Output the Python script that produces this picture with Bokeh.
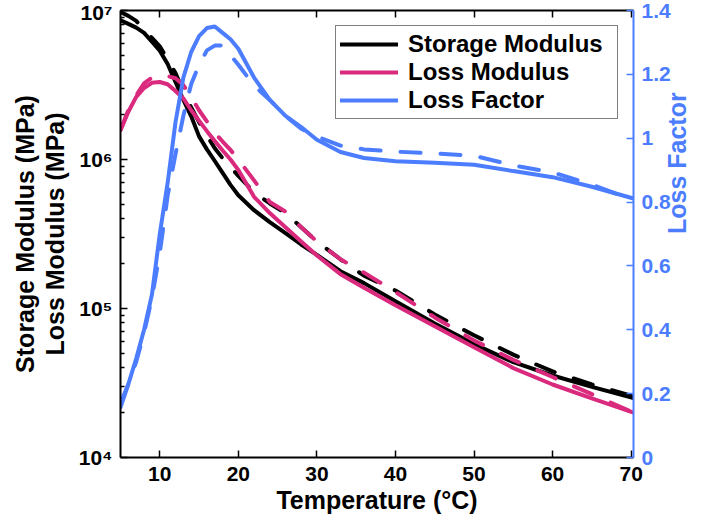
import math
from bokeh.plotting import figure
from bokeh.models import (Range1d, LinearAxis, FixedTicker, Legend, LegendItem,
                          LinearScale)
from bokeh.embed import file_html
from bokeh.resources import INLINE

# ---------------- data ----------------
temperature = [5, 6, 7, 8, 9, 10, 11, 12, 13, 14, 15, 16, 17, 18, 19, 20,
               22, 24, 26, 28, 30, 33, 36, 40, 45, 50, 55, 60, 65, 70.3]

# Storage modulus (MPa) - solid / dashed
storage_solid = [8.6e6, 8.13e6, 7.67e6, 7.08e6, 6.17e6, 5.37e6, 4.37e6, 3.31e6,
                 2.51e6, 1.95e6, 1.43e6, 1.17e6, 9.77e5, 8.13e5, 6.76e5, 5.75e5,
                 4.57e5, 3.80e5, 3.20e5, 2.69e5, 2.29e5, 1.78e5, 1.48e5, 1.12e5,
                 7.94e4, 5.77e4, 4.36e4, 3.55e4, 2.98e4, 2.51e4]
storage_dashed = [9.77e6, 9.2e6, 8.51e6, 7.46e6, 6.55e6, 5.75e6, 4.68e6, 3.8e6,
                  2.88e6, 2.24e6, 1.78e6, 1.45e6, 1.19e6, 1.02e6, 8.91e5, 7.76e5,
                  6.03e5, 5.07e5, 4.37e5, 3.51e5, 2.82e5, 2.14e5, 1.66e5, 1.32e5,
                  9.12e4, 6.61e4, 4.9e4, 3.78e4, 3.09e4, 2.57e4]

# Loss modulus (MPa) - solid / dashed
loss_solid = [1.57e6, 2.09e6, 2.63e6, 3.02e6, 3.27e6, 3.31e6, 3.2e6, 2.88e6,
              2.57e6, 2.14e6, 1.82e6, 1.55e6, 1.33e6, 1.15e6, 1.0e6, 8.51e5,
              5.62e5, 4.37e5, 3.51e5, 2.82e5, 2.27e5, 1.70e5, 1.38e5, 1.05e5,
              7.59e4, 5.5e4, 3.98e4, 3.09e4, 2.49e4, 2.0e4]
loss_dashed = [1.58e6, 2.14e6, 2.69e6, 3.24e6, 3.55e6, 3.67e6, 3.63e6, 3.51e6,
               3.16e6, 2.63e6, 2.14e6, 1.80e6, 1.51e6, 1.32e6, 1.16e6, 1.0e6,
               7.24e5, 5.19e5, 4.47e5, 3.51e5, 2.82e5, 2.14e5, 1.74e5, 1.29e5,
               8.71e4, 6.1e4, 4.52e4, 3.47e4, 2.66e4, 2.0e4]

# Loss factor - solid / dashed
factor_solid = [0.157, 0.23, 0.31, 0.40, 0.51, 0.70, 0.86, 1.05, 1.19, 1.27,
                1.32, 1.345, 1.35, 1.33, 1.31, 1.28, 1.19, 1.12, 1.07, 1.035,
                0.995, 0.957, 0.938, 0.928, 0.923, 0.917, 0.897, 0.878, 0.848, 0.811]
factor_dashed = [0.17, 0.23, 0.30, 0.39, 0.50, 0.64, 0.82, 0.95, 1.07, 1.17,
                 1.23, 1.275, 1.29, 1.29, 1.26, 1.23, 1.165, 1.12, 1.07, 1.03,
                 1.005, 0.977, 0.965, 0.958, 0.952, 0.945, 0.915, 0.893, 0.855, 0.805]

x_ticks = [10, 20, 30, 40, 50, 60, 70]
y_ticks = [1e4, 1e5, 1e6, 1e7]
y_tick_labels = ["10\u2074", "10\u2075", "10\u2076", "10\u2077"]
lf_ticks = [0, 0.2, 0.4, 0.6, 0.8, 1, 1.2, 1.4]
lf_tick_labels = ["0", "0.2", "0.4", "0.6", "0.8", "1", "1.2", "1.4"]
series_names = ["Storage Modulus", "Loss Modulus", "Loss Factor"]

# ---------------- styling ----------------
BLACK = "#000000"
PINK = "#DA2A7E"
BLUE = "#4C7DFF"
FONT = "Liberation Sans"

p = figure(width=709, height=525, output_backend="svg", toolbar_location=None,
           x_range=Range1d(5, 70.3), y_range=Range1d(1e4, 1e7),
           y_axis_type="log", min_border_left=120, min_border_right=76,
           min_border_top=10, min_border_bottom=68)
p.extra_y_ranges = {"lf": Range1d(0, 1.4)}
p.extra_y_scales = {"lf": LinearScale()}
p.outline_line_color = None
p.grid.visible = False
p.background_fill_color = "white"
p.border_fill_color = "white"

minor = [m * 10 ** e for e in range(4, 7) for m in range(2, 10)]

# left (log) axis
ya = p.yaxis[0]
ya.ticker = FixedTicker(ticks=y_ticks, minor_ticks=minor)
ya.major_label_overrides = dict(zip(y_ticks, y_tick_labels))
ya.axis_label = "Storage Modulus (MPa)\nLoss Modulus (MPa)"

# bottom axis
xa = p.xaxis[0]
xa.ticker = FixedTicker(ticks=x_ticks)
xa.axis_label = "Temperature (\u00b0C)"

for ax in (ya, xa):
    ax.axis_line_color = BLACK
    ax.axis_line_width = 2
    ax.major_tick_in = 7
    ax.major_tick_out = 0
    ax.major_tick_line_width = 1.5
    ax.minor_tick_in = 4
    ax.minor_tick_out = 0
    ax.minor_tick_line_width = 1.5
    ax.major_label_text_font = FONT
    ax.major_label_text_font_style = "bold"
    ax.major_label_text_font_size = "21px"
    ax.major_label_text_color = BLACK
    ax.axis_label_text_font = FONT
    ax.axis_label_text_font_style = "bold"
    ax.axis_label_text_font_size = "25px"
    ax.axis_label_text_color = BLACK
xa.minor_tick_line_color = None
xa.major_label_standoff = 9
xa.axis_label_standoff = 2
ya.major_label_standoff = 8
ya.axis_label_standoff = 7
ya.axis_label_text_line_height = 1.08

# top axis (box line with ticks, no labels)
top = LinearAxis(ticker=FixedTicker(ticks=x_ticks), axis_line_width=2,
                 major_tick_in=7, major_tick_out=0, major_tick_line_width=1.5,
                 minor_tick_line_color=None, major_label_text_font_size="1px",
                 major_label_text_alpha=0, major_label_standoff=0)
p.add_layout(top, "above")

# right (loss factor) axis
ra = LinearAxis(y_range_name="lf", ticker=FixedTicker(ticks=lf_ticks),
                axis_label="Loss Factor")
ra.major_label_overrides = dict(zip(lf_ticks, lf_tick_labels))
ra.axis_line_color = BLUE
ra.axis_line_width = 2
ra.major_tick_in = 7
ra.major_tick_out = 0
ra.major_tick_line_color = BLUE
ra.major_tick_line_width = 1.5
ra.minor_tick_line_color = None
ra.major_label_text_font = FONT
ra.major_label_text_font_style = "bold"
ra.major_label_text_font_size = "21px"
ra.major_label_text_color = BLUE
ra.axis_label_text_font = FONT
ra.axis_label_text_font_style = "bold"
ra.axis_label_text_font_size = "25px"
ra.axis_label_text_color = BLUE
ra.major_label_standoff = 8
ra.axis_label_standoff = 3
try:
    ra.axis_label_orientation = math.pi / 2
except Exception:
    pass
p.add_layout(ra, "right")

# ---------------- lines ----------------
LW = 4
DASH = "20 20"
r_s = p.line(temperature, storage_solid, line_color=BLACK, line_width=LW, line_cap="round")
p.line(temperature, storage_dashed, line_color=BLACK, line_width=LW, line_dash=DASH, line_cap="round")
r_l = p.line(temperature, loss_solid, line_color=PINK, line_width=LW, line_cap="round")
p.line(temperature, loss_dashed, line_color=PINK, line_width=LW, line_dash=DASH, line_cap="round")
r_f = p.line(temperature, factor_solid, line_color=BLUE, line_width=LW, line_cap="round",
             y_range_name="lf")
p.line(temperature, factor_dashed, line_color=BLUE, line_width=LW, line_dash=DASH,
       line_cap="round", y_range_name="lf")

legend = Legend(items=[LegendItem(label=series_names[0], renderers=[r_s]),
                       LegendItem(label=series_names[1], renderers=[r_l]),
                       LegendItem(label=series_names[2], renderers=[r_f])],
                location="top_right", margin=15, padding=4, spacing=0,
                glyph_width=58, glyph_height=28, label_height=28,
                label_width=205, label_standoff=10,
                label_text_font=FONT, label_text_font_style="bold",
                label_text_font_size="24px", label_text_color=BLACK,
                border_line_color=BLACK, border_line_width=1.5,
                background_fill_color="white", background_fill_alpha=1)
p.add_layout(legend, "center")

open("out.html", "w").write(file_html(p, INLINE))
